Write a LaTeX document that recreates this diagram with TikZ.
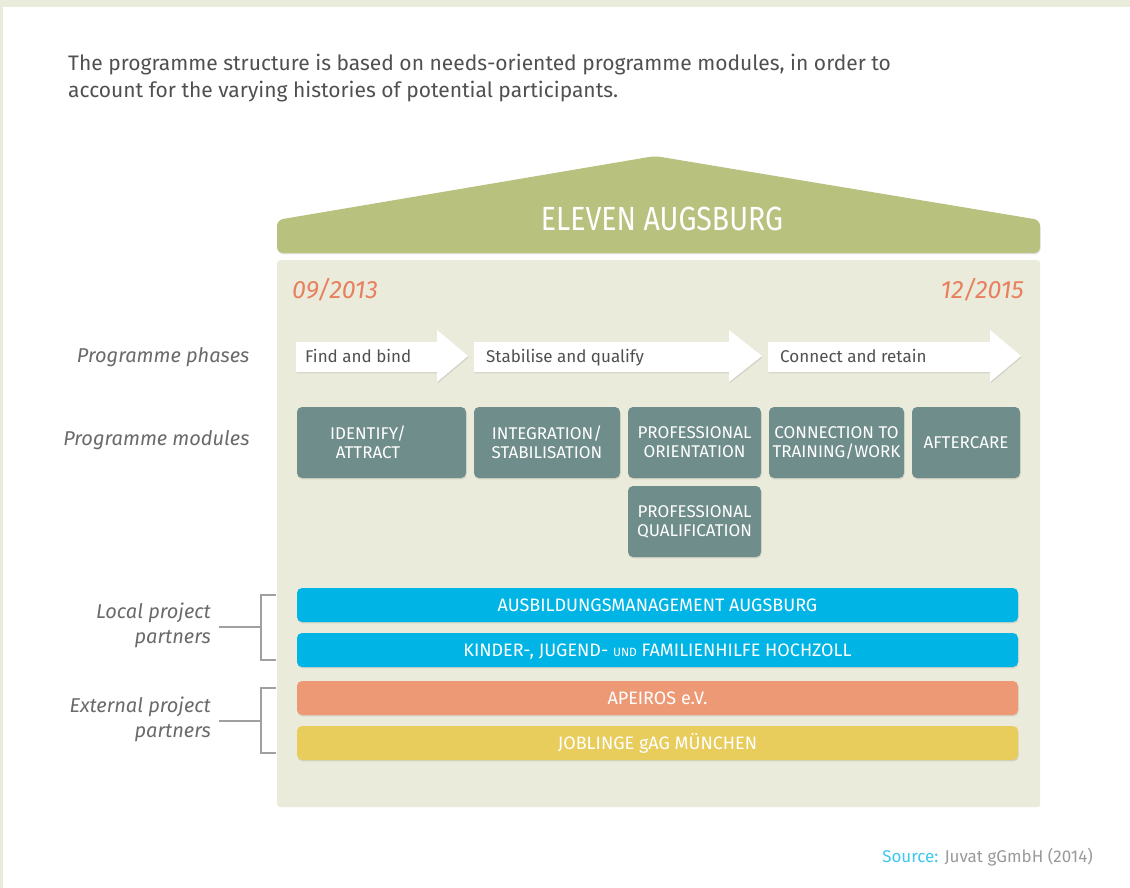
\documentclass[tikz,border=0pt]{standalone}
\usepackage{fontspec}
\setmainfont{Fira Sans}
\newfontfamily\condf[FakeStretch=0.85]{Fira Sans}
\usetikzlibrary{shadows}
\definecolor{bandc}{HTML}{E9ECDA}
\definecolor{bodyc}{HTML}{EBEBDB}
\definecolor{roofc}{HTML}{B8C17E}
\definecolor{modc}{HTML}{6F8D8B}
\definecolor{bluec}{HTML}{00B5E5}
\definecolor{salmonc}{HTML}{EE9976}
\definecolor{yellowc}{HTML}{E8CC5C}
\definecolor{datec}{HTML}{E8805F}
\definecolor{txtgray}{HTML}{505050}
\definecolor{lblgray}{HTML}{6A6A6A}
\definecolor{brkc}{HTML}{A0A0A0}
\definecolor{srcblue}{HTML}{3CC8F0}
\definecolor{srcgray}{HTML}{9A9A9A}
\tikzset{
  shad/.style={drop shadow={shadow xshift=0.6pt, shadow yshift=-1.4pt, opacity=0.22}},
  modbox/.style={fill=modc, rounded corners=5pt, shad, inner sep=0pt},
  modtxt/.style={text=white, align=center, font=\fontsize{17}{19}\selectfont},
  bar/.style={rounded corners=5pt, shad, inner sep=0pt, minimum width=721, minimum height=34,
     text height=12.4pt, text depth=0pt, text=white, font=\fontsize{18}{19}\selectfont},
  lbl/.style={text=lblgray, align=right, font=\itshape\fontsize{20}{25}\selectfont},
  phasetxt/.style={text=txtgray, font=\fontsize{17}{19}\selectfont, anchor=base west, inner sep=0pt},
  brk/.style={draw=brkc, line width=1.6pt},
  arrowshape/.style={fill=white, shad},
}
\begin{document}
\begin{tikzpicture}[x=1pt,y=-1pt]
\fill[bandc] (0,0) rectangle (1130,888);
\fill[white] (3,7) rectangle (1130,888);
\useasboundingbox (0,0) rectangle (1130,888);

% intro text
\node[anchor=base west, text=txtgray, align=left, inner sep=0pt,
      font=\fontsize{21}{27}\selectfont] (intro) at (68,98)
  {The programme structure is based on needs-oriented programme modules, in order to\\
   account for the varying histories of potential participants.};

% roof
\fill[roofc, rounded corners=6pt, shad] (277,253) -- (277,220) -- (655,156) -- (1040,220) -- (1040,253) -- cycle;
\node[text=white, font=\condf\fontsize{33.5}{34}\selectfont] (title) at (662,219) {ELEVEN AUGSBURG};

% body
\node[fill=bodyc, rounded corners=3pt, anchor=north west, inner sep=0pt,
      minimum width=763, minimum height=547] (body) at (277,260) {};

% dates
\node[anchor=base west, text=datec, inner sep=0pt, font=\itshape\fontsize{25}{25}\selectfont] (d1) at (292,298) {09/2013};
\node[anchor=base east, text=datec, inner sep=0pt, font=\itshape\fontsize{25}{25}\selectfont] (d2) at (1024,298) {12/2015};

% phase arrows
\fill[arrowshape] (296,342) -- (437,342) -- (437,330) -- (468,356) -- (437,382) -- (437,372) -- (296,372) -- cycle;
\fill[arrowshape] (474,342) -- (729,342) -- (729,330) -- (762,356) -- (729,382) -- (729,372) -- (474,372) -- cycle;
\fill[arrowshape] (768,342) -- (990,342) -- (990,330) -- (1021,356) -- (990,382) -- (990,372) -- (768,372) -- cycle;
\node[phasetxt] (p1) at (305,362) {Find and bind};
\node[phasetxt] (p2) at (486,362) {Stabilise and qualify};
\node[phasetxt] (p3) at (780,362) {Connect and retain};

% left labels
\node[lbl, anchor=east] (lphase) at (253,357) {Programme phases};
\node[lbl, anchor=east] (lmod) at (253,440) {Programme modules};

% modules
\node[modbox, minimum width=169, minimum height=71] (m1) at (381.5,442.5) {};
\node[modtxt] (m1t) at (368,442) {IDENTIFY/\\ATTRACT};
\node[modbox, modtxt, minimum width=146, minimum height=71] (m2) at (547,442.5) {INTEGRATION/\\STABILISATION};
\node[modbox, modtxt, minimum width=133, minimum height=71] (m3) at (694.5,442.5) {PROFESSIONAL\\ORIENTATION};
\node[modbox, modtxt, minimum width=135, minimum height=71] (m4) at (836.5,442.5) {CONNECTION TO\\TRAINING/WORK};
\node[modbox, modtxt, minimum width=108, minimum height=71] (m5) at (966,442.5) {AFTERCARE};
\node[modbox, modtxt, minimum width=133, minimum height=71] (m6) at (694.5,521.5) {PROFESSIONAL\\QUALIFICATION};

% partner bars
\node[bar, fill=bluec] (b1) at (657.5,605) {AUSBILDUNGSMANAGEMENT AUGSBURG};
\node[bar, fill=bluec] (b2) at (657.5,650) {KINDER-, JUGEND- {\fontsize{12}{12}\selectfont UND} FAMILIENHILFE HOCHZOLL};
\node[bar, fill=salmonc] (b3) at (657.5,698) {APEIROS e.V.};
\node[bar, fill=yellowc] (b4) at (657.5,743) {JOBLINGE gAG MÜNCHEN};

% bracket labels
\node[lbl, anchor=east, inner sep=0pt] (loc) at (211,625) {Local project\\partners};
\node[lbl, anchor=east, inner sep=0pt] (ext) at (211,719) {External project\\partners};
\coordinate (lj) at (261,627);
\coordinate (ej) at (261,721);
\coordinate (lt) at (276,595);
\coordinate (lb) at (276,660);
\coordinate (et) at (276,688);
\coordinate (eb) at (276,753);
\draw[brk] ([shift={(8,2)}]loc.east) -- (lj);
\draw[brk] (lt) -- (lt -| lj) -- (lb -| lj) -- (lb);
\draw[brk] ([shift={(8,2)}]ext.east) -- (ej);
\draw[brk] (et) -- (et -| ej) -- (eb -| ej) -- (eb);

% source
\node[anchor=base east, inner sep=0pt, font=\fontsize{17}{17}\selectfont] (src) at (1093,862)
  {\textcolor{srcblue}{Source:} \textcolor{srcgray}{Juvat gGmbH (2014)}};
\end{tikzpicture}
\end{document}
